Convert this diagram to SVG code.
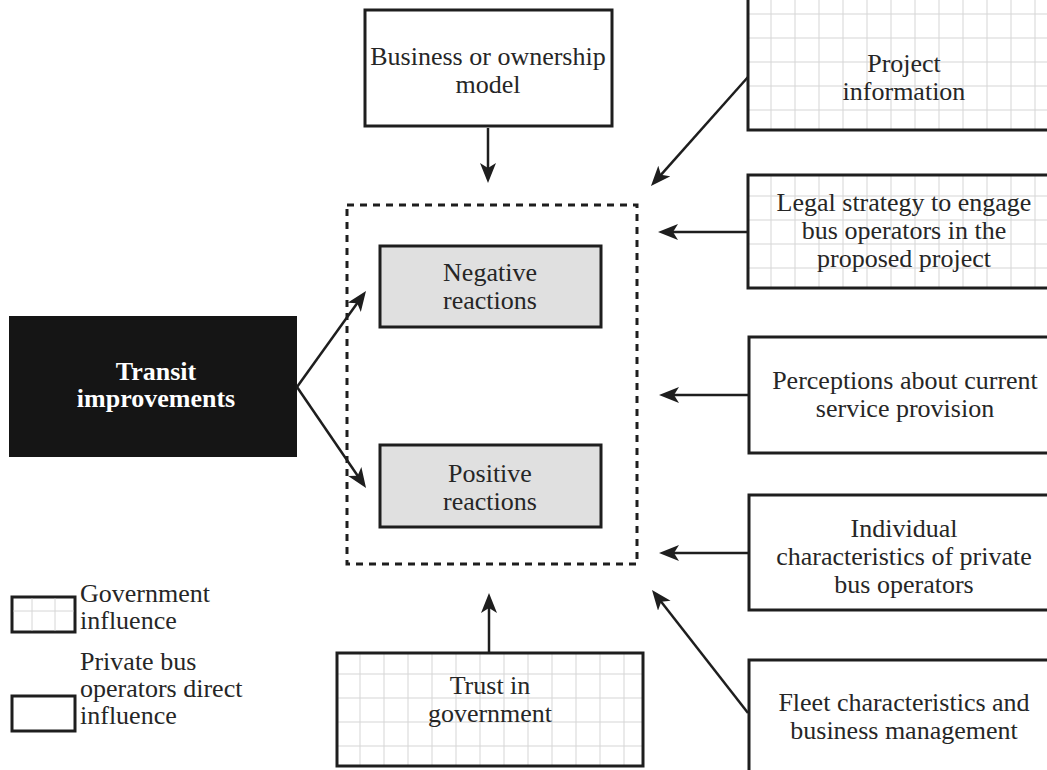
<svg xmlns="http://www.w3.org/2000/svg" width="1047" height="770" viewBox="0 0 1047 770">
  <style>
    .box { fill: #ffffff; stroke: #1e1e1e; stroke-width: 3; }
    .grid { fill: url(#grid); stroke: #1e1e1e; stroke-width: 3; }
    .react { fill: #e0e0e0; stroke: #1e1e1e; stroke-width: 3; }
    .dark { fill: #151515; stroke: none; }
    .frame { fill: none; stroke: #1e1e1e; stroke-width: 3; stroke-dasharray: 7 6; }
    .t { font-family: "Liberation Serif", "Times New Roman", serif; font-size: 26px; fill: #262626; text-anchor: middle; }
    .tl { font-family: "Liberation Serif", "Times New Roman", serif; font-size: 26px; fill: #262626; }
    .tb { font-family: "Liberation Serif", "Times New Roman", serif; font-size: 26px; font-weight: bold; fill: #ffffff; text-anchor: middle; }
    .conn line { stroke: #1e1e1e; stroke-width: 2.5; marker-end: url(#head); }
    .gl { stroke: #d6d6d6; stroke-width: 1; }
  </style>
  <defs>
    <pattern id="grid" patternUnits="userSpaceOnUse" x="0" y="0" width="24" height="24">
      <rect width="24" height="24" fill="#ffffff"/>
      <line x1="23" y1="0" x2="23" y2="24" stroke="#d6d6d6" stroke-width="1"/>
      <line x1="0" y1="21" x2="24" y2="21" stroke="#d6d6d6" stroke-width="1"/>
    </pattern>
    <marker id="head" markerUnits="userSpaceOnUse" markerWidth="21" markerHeight="17" refX="7" refY="8" orient="auto">
      <path d="M0,0 L20,8 L0,16 L5,8 Z" fill="#1e1e1e"/>
    </marker>
  </defs>

  <rect width="1047" height="770" fill="#ffffff"/>

  <!-- outcome frame -->
  <g id="reactions-frame">
    <rect class="frame" x="347" y="205" width="290" height="359"/>
  </g>

  <g id="business-model">
    <rect class="box" x="365" y="10" width="247" height="116"/>
    <text class="t" x="488" y="65">Business or ownership</text>
    <text class="t" x="488" y="93">model</text>
  </g>

  <g id="project-info" transform="translate(748,-7)">
    <rect class="grid" x="0" y="0" width="320" height="137"/>
    <text class="t" x="156" y="79">Project</text>
    <text class="t" x="156" y="107">information</text>
  </g>

  <g id="legal-strategy" transform="translate(748,175)">
    <rect class="grid" x="0" y="0" width="320" height="113"/>
    <text class="t" x="156" y="36">Legal strategy to engage</text>
    <text class="t" x="156" y="64">bus operators in the</text>
    <text class="t" x="156" y="92">proposed project</text>
  </g>

  <g id="perceptions">
    <rect class="box" x="749" y="337" width="320" height="116"/>
    <text class="t" x="905" y="389">Perceptions about current</text>
    <text class="t" x="905" y="417">service provision</text>
  </g>

  <g id="individual">
    <rect class="box" x="749" y="495" width="320" height="115"/>
    <text class="t" x="904" y="537">Individual</text>
    <text class="t" x="904" y="565">characteristics of private</text>
    <text class="t" x="904" y="593">bus operators</text>
  </g>

  <g id="fleet">
    <rect class="box" x="749" y="660" width="320" height="130"/>
    <text class="t" x="904" y="711">Fleet characteristics and</text>
    <text class="t" x="904" y="739">business management</text>
  </g>

  <g id="trust" transform="translate(337,653)">
    <rect class="grid" x="0" y="0" width="306" height="113"/>
    <text class="t" x="153" y="41">Trust in</text>
    <text class="t" x="153" y="69">government</text>
  </g>

  <g id="negative">
    <rect class="react" x="380" y="246" width="221" height="81"/>
    <text class="t" x="490" y="281">Negative</text>
    <text class="t" x="490" y="309">reactions</text>
  </g>

  <g id="positive">
    <rect class="react" x="380" y="445" width="221" height="82"/>
    <text class="t" x="490" y="482">Positive</text>
    <text class="t" x="490" y="510">reactions</text>
  </g>

  <g id="transit">
    <rect class="dark" x="9" y="316" width="288" height="141"/>
    <text class="tb" x="156" y="380">Transit</text>
    <text class="tb" x="156" y="407">improvements</text>
  </g>

  <g id="connectors" class="conn">
    <line x1="488" y1="128" x2="488" y2="170"/>
    <line x1="748" y1="77" x2="659.6" y2="176.3"/>
    <line x1="748" y1="232" x2="671" y2="232"/>
    <line x1="748" y1="395" x2="672" y2="395"/>
    <line x1="748" y1="553" x2="672" y2="553"/>
    <line x1="748" y1="713" x2="660" y2="600.2"/>
    <line x1="489" y1="652" x2="489" y2="606"/>
    <line x1="297" y1="387" x2="358.4" y2="301.6"/>
    <line x1="297" y1="387" x2="358.7" y2="477.3"/>
  </g>

  <g id="legend">
    <rect class="box" x="12" y="597" width="63" height="35"/>
    <line class="gl" x1="32" y1="598.5" x2="32" y2="630.5"/>
    <line class="gl" x1="55" y1="598.5" x2="55" y2="630.5"/>
    <line class="gl" x1="13.5" y1="611" x2="73.5" y2="611"/>
    <text class="tl" x="80" y="602">Government</text>
    <text class="tl" x="80" y="629">influence</text>
    <rect class="box" x="12" y="696" width="63" height="35"/>
    <text class="tl" x="80" y="670">Private bus</text>
    <text class="tl" x="80" y="697">operators direct</text>
    <text class="tl" x="80" y="724">influence</text>
  </g>
</svg>
